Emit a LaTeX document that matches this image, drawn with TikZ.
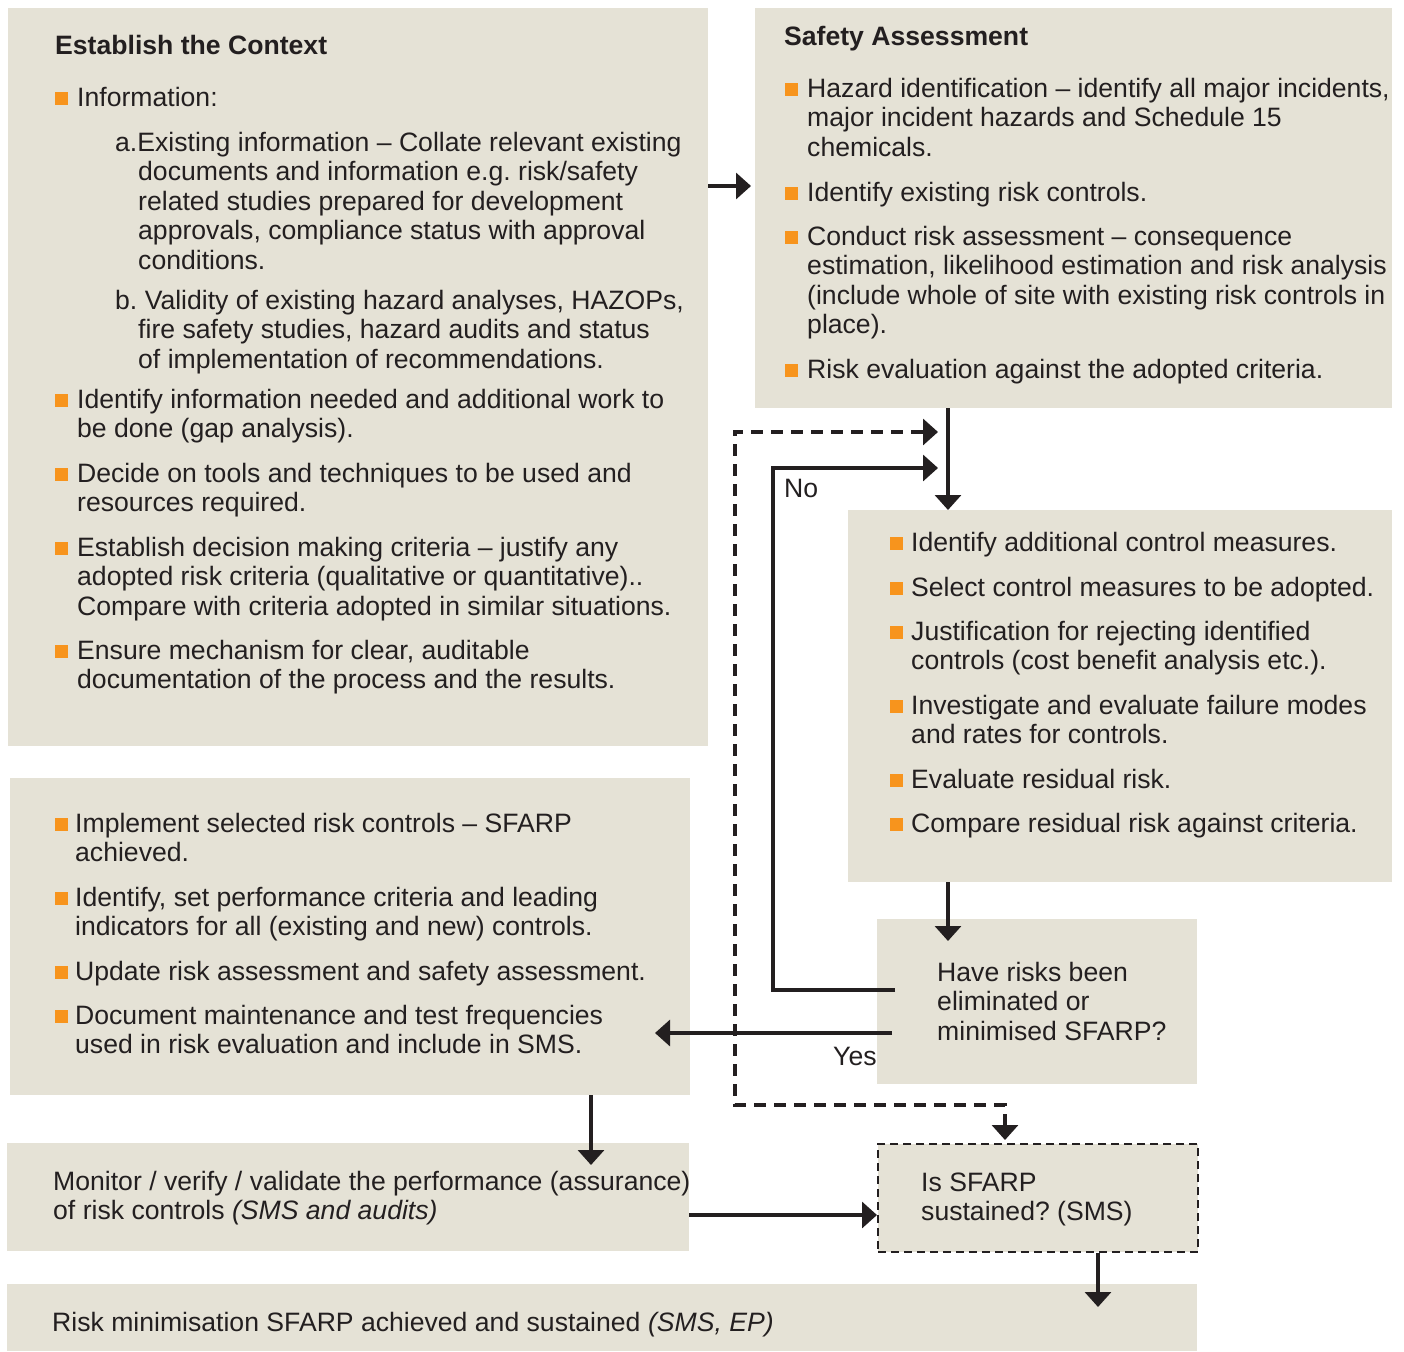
\documentclass[tikz,border=0pt]{standalone}
\usepackage{fontspec}
\setmainfont{Liberation Sans}
\usetikzlibrary{arrows.meta}
\definecolor{boxc}{HTML}{E5E2D6}
\definecolor{ink}{HTML}{231F20}
\definecolor{org}{HTML}{F7941D}
\frenchspacing
\newcommand\fs{\fontsize{26.6pt}{29.5pt}\selectfont\frenchspacing}
\newcommand\ind{\hspace*{23pt}}
\begin{document}
\begin{tikzpicture}[x=1pt,y=-1pt,
  box/.style={fill=boxc, draw=none, inner sep=0, anchor=north west},
  tx/.style={anchor=north west, inner sep=0, align=left, font=\fs, text=ink, yshift=19.65pt},
  ttl/.style={tx, font=\fs\bfseries},
  bsq/.style={fill=org, inner sep=0, minimum size=12.5pt, anchor=south west},
  arr/.style={line width=3.3pt, draw=ink, -{Triangle[length=15pt,width=26pt]}},
  darr/.style={line width=3.3pt, draw=ink, dash pattern=on 12pt off 8pt,
     {Triangle[length=15pt,width=26pt]}-{Triangle[length=15pt,width=26pt]}}]
\useasboundingbox (0,0) rectangle (1404,1351);

% boxes
\node[box, minimum width=700pt, minimum height=738pt] (ctx) at (8,8) {};
\node[box, minimum width=637pt, minimum height=400pt] (sa) at (755,8) {};
\node[box, minimum width=544pt, minimum height=372pt] (ctl) at (848,510) {};
\node[box, minimum width=320pt, minimum height=165pt] (hr) at (877,919) {};
\node[box, minimum width=680pt, minimum height=317pt] (imp) at (10,778) {};
\node[box, minimum width=682pt, minimum height=108pt] (mon) at (7,1143) {};
\node[box, minimum width=320pt, minimum height=108pt, draw=ink, line width=2pt, dash pattern=on 8pt off 5pt] (sus) at (877,1143) {};
\node[box, minimum width=1190pt, minimum height=67pt] (fin) at (7,1284) {};

% Establish the context
\node[ttl] (t1) at (55,53) {\strut Establish the Context};
\node[bsq] (q1) at (55,105) {};
\node[tx] (p1) at (77,105) {\strut Information:};
\node[tx] (p1a) at (115,150) {\strut a.Existing information – Collate relevant existing\\\ind documents and information e.g. risk/safety\\\ind related studies prepared for development\\\ind approvals, compliance status with approval\\\ind conditions.};
\node[tx] (p1b) at (115,308) {\strut b. Validity of existing hazard analyses, HAZOPs,\\\ind fire safety studies, hazard audits and status\\\ind of implementation of recommendations.};
\node[bsq] (q2) at (55,407) {};
\node[tx] (p2) at (77,407) {\strut Identify information needed and additional work to\\be done (gap analysis).};
\node[bsq] (q3) at (55,481) {};
\node[tx] (p3) at (77,481) {\strut Decide on tools and techniques to be used and\\resources required.};
\node[bsq] (q4) at (55,555) {};
\node[tx] (p4) at (77,555) {\strut Establish decision making criteria – justify any\\adopted risk criteria (qualitative or quantitative)..\\Compare with criteria adopted in similar situations.};
\node[bsq] (q5) at (55,658) {};
\node[tx] (p5) at (77,658) {\strut Ensure mechanism for clear, auditable\\documentation of the process and the results.};

% Safety assessment
\node[ttl] (t2) at (784,44) {\strut Safety Assessment};
\node[bsq] (r1) at (785,96) {};
\node[tx] (s1) at (807,96) {\strut Hazard identification – identify all major incidents,\\major incident hazards and Schedule 15\\chemicals.};
\node[bsq] (r2) at (785,200) {};
\node[tx] (s2) at (807,200) {\strut Identify existing risk controls.};
\node[bsq] (r3) at (785,244) {};
\node[tx] (s3) at (807,244) {\strut Conduct risk assessment – consequence\\estimation, likelihood estimation and risk analysis\\(include whole of site with existing risk controls in\\place).};
\node[bsq] (r4) at (785,377) {};
\node[tx] (s4) at (807,377) {\strut Risk evaluation against the adopted criteria.};

% Control measures
\node[bsq] (c1q) at (890,550) {};
\node[tx] (c1) at (911,550) {\strut Identify additional control measures.};
\node[bsq] (c2q) at (890,595) {};
\node[tx] (c2) at (911,595) {\strut Select control measures to be adopted.};
\node[bsq] (c3q) at (890,639) {};
\node[tx] (c3) at (911,639) {\strut Justification for rejecting identified\\controls (cost benefit analysis etc.).};
\node[bsq] (c4q) at (890,713) {};
\node[tx] (c4) at (911,713) {\strut Investigate and evaluate failure modes\\and rates for controls.};
\node[bsq] (c5q) at (890,787) {};
\node[tx] (c5) at (911,787) {\strut Evaluate residual risk.};
\node[bsq] (c6q) at (890,831) {};
\node[tx] (c6) at (911,831) {\strut Compare residual risk against criteria.};

% Have risks
\node[tx] (h1) at (937,980) {\strut Have risks been\\eliminated or\\minimised SFARP?};

% Implement
\node[bsq] (i1q) at (55,831) {};
\node[tx] (i1) at (75,831) {\strut Implement selected risk controls – SFARP\\achieved.};
\node[bsq] (i2q) at (55,905) {};
\node[tx] (i2) at (75,905) {\strut Identify, set performance criteria and leading\\indicators for all (existing and new) controls.};
\node[bsq] (i3q) at (55,979) {};
\node[tx] (i3) at (75,979) {\strut Update risk assessment and safety assessment.};
\node[bsq] (i4q) at (55,1023) {};
\node[tx] (i4) at (75,1023) {\strut Document maintenance and test frequencies\\used in risk evaluation and include in SMS.};

% Monitor, sustained, final
\node[tx] (m1) at (53,1189) {\strut Monitor / verify / validate the performance (assurance)\\of risk controls \textit{(SMS and audits)}};
\node[tx] (u1) at (921,1190) {\strut Is SFARP\\sustained? (SMS)};
\node[tx] (f1) at (52,1330) {\strut Risk minimisation SFARP achieved and sustained \textit{(SMS, EP)}};

% labels
\node[tx] (no) at (784,496) {\strut No};
\node[tx] (yes) at (833,1064) {\strut Yes};

% connectors
\draw[arr, shorten >=4pt] (ctx.east |- 0,186) -- (sa.west |- 0,186);
\draw[arr] (sa.south -| 948,0) -- (ctl.north -| 948,0);
\coordinate (hrIn) at (948,941);
\draw[arr] (ctl.south -| 948,0) -- (hrIn);
\coordinate (noS) at (895,990);
\coordinate (noE) at (938,468);
\draw[arr] (noS) -- (773,990) -- (773,468) -- (noE);
\coordinate (yesS) at (892,1033);
\coordinate (yesE) at (655,1033);
\draw[arr] (yesS) -- (yesE);
\draw[arr] (imp.south -| 591,0) -- (591,1165);
\draw[arr] (mon.east |- 0,1215) -- (sus.west |- 0,1215);
\coordinate (finIn) at (1098,1307);
\draw[arr] (sus.south -| 1098,0) -- (finIn);
\coordinate (dS) at (1005,1140);
\coordinate (dE) at (938,432);
\draw[darr] (dS) -- (1005,1105) -- (735,1105) -- (735,432) -- (dE);
\end{tikzpicture}
\end{document}
